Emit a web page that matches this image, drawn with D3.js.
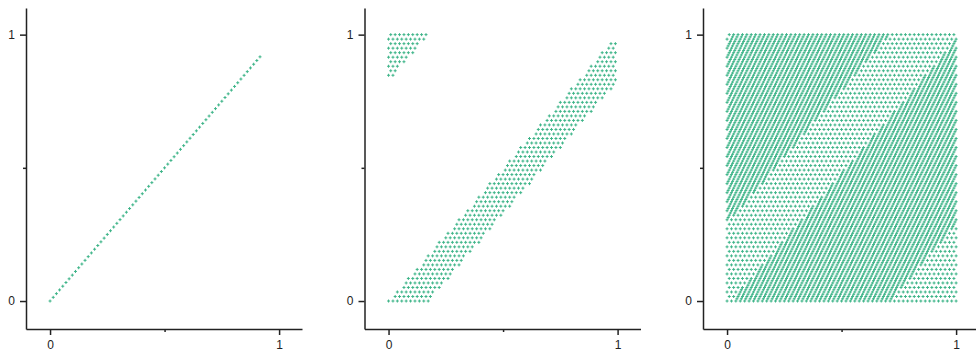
<!DOCTYPE html>
<html>
<head>
<meta charset="utf-8">
<script src="https://cdn.jsdelivr.net/npm/d3@7"></script>
<style>
  body { margin: 0; background: #fff; }
  svg { display: block; }
  .tick text { font-family: "Liberation Sans", Arial, sans-serif; font-size: 12px; fill: #222; }
</style>
</head>
<body>
<svg id="chart" width="976" height="351"></svg>
<script>

// values
var panelNames = ["same", "narrow", "wide"]
var xMax = [0.93, 0.995, 1]        // where the points stop on the right
var bandLow = [0, 0, 0]            // offset d = (x - y) mod 1 kept in each panel
var bandHigh = [0, 0.175, 1]
var denseLow = [null, null, 0.02]  // offsets drawn twice (darker stripes)
var denseHigh = [null, null, 0.71]
var stepX = [1 / 72, 1 / 52, 1 / 52]
var stepY = [1 / 72, 1 / 59, 1 / 59]
var tickValues = [0, 0.5, 1]
var tickLabels = ["0", "", "1"]
var domain = [-0.105, 1.1]

var main = function() {

    var svg = d3.select("#chart")

    var panelLeft = 26, panelGap = 338.5, panelTop = 8
    var w = 276, h = 321

    var x = d3.scaleLinear().domain(domain).range([0, w])
    var y = d3.scaleLinear().domain(domain).range([h, 0])

    function latticePoints(p) {
        var pts = []
        var sx = stepX[p], sy = stepY[p]

        // single offset: just the diagonal
        if (bandHigh[p] == bandLow[p]) {
            for (var i = 0; i * sx <= xMax[p] + 1e-9; i++) {
                pts.push([i * sx, i * sx])
            }
            return pts
        }

        var offset = function(px, py) {
            var d = ((px - py) % 1 + 1) % 1
            if (d > 1 - 1e-9) d = 0
            return d
        }

        for (var r = 0; r * sy <= 1 + 1e-9; r++) {
            var py = r * sy
            var shift = (r % 2) * sx / 2
            for (var c = 0; c * sx + shift <= xMax[p] + 1e-9; c++) {
                var px = c * sx + shift
                var d = offset(px, py)
                if (d >= bandLow[p] && d <= bandHigh[p]) pts.push([px, py])

                if (denseLow[p] != null) {
                    var qx = px + sx / 4, qy = py + sy / 2
                    if (qy <= 1 && qx <= 1) {
                        var dq = offset(qx, qy)
                        if (dq >= denseLow[p] && dq <= denseHigh[p]) pts.push([qx, qy])
                    }
                }
            }
        }
        return pts
    }

    panelNames.forEach(function(name, p) {

        var g = svg.append("g")
                   .attr("class", "panel " + name)
                   .attr("transform", "translate(" + (panelLeft + p * panelGap) + "," + panelTop + ")")

        var pts = latticePoints(p)

        // every point is a small "+"
        var dpath = pts.map(function(d) {
            var cx = x(d[0]), cy = y(d[1])
            return "M" + (cx - 1.5) + "," + cy + "h3M" + cx + "," + (cy - 1.5) + "v3"
        }).join("")

        g.append("path")
         .attr("d", dpath)
         .attr("fill", "none")
         .attr("stroke", "#3db488")
         .attr("stroke-width", 1)

        var xAxis = d3.axisBottom(x)
                      .tickValues(tickValues)
                      .tickFormat(function(d, i) { return tickLabels[i] })
                      .tickSize(6)
                      .tickSizeOuter(0)
                      .tickPadding(5)

        var yAxis = d3.axisLeft(y)
                      .tickValues(tickValues)
                      .tickFormat(function(d, i) { return tickLabels[i] })
                      .tickSize(6)
                      .tickSizeOuter(0)
                      .tickPadding(5)

        var gx = g.append("g")
                  .attr("transform", "translate(0," + h + ")")
                  .call(xAxis)

        var gy = g.append("g")
                  .call(yAxis)

        // unlabeled middle ticks are short
        gx.selectAll(".tick line").attr("y2", function(d, i) { return tickLabels[i] ? 6 : 3 })
        gy.selectAll(".tick line").attr("x2", function(d, i) { return tickLabels[i] ? -6 : -3 })

        g.selectAll(".domain, .tick line")
         .attr("stroke", "#222")
         .attr("stroke-width", 1.5)
    })
}

main()

</script>
</body>
</html>
